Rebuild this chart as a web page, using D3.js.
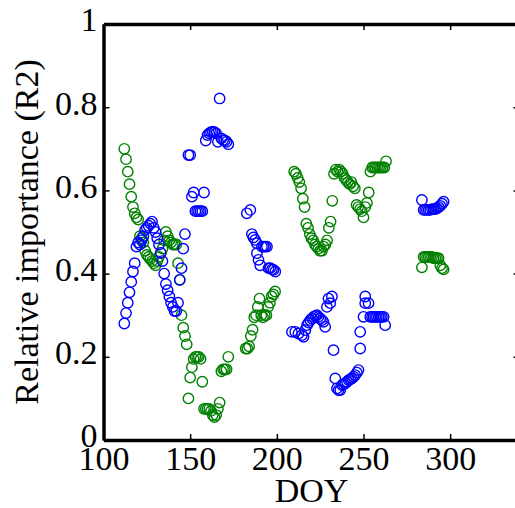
<!DOCTYPE html>
<html>
<head>
<meta charset="utf-8">
<script src="https://cdn.jsdelivr.net/npm/d3@7"></script>
<style>
  html, body { margin: 0; padding: 0; background: #fff; }
  svg { display: block; }
  text { font-family: "Liberation Serif", "Times New Roman", serif; }
</style>
</head>
<body>
<svg id="chart" width="515" height="508"></svg>
<script>
// ---- data ----
const greenDOY = [
  112,113,114,115,116,117,118,119,120,121,122,123,124,125,126,127,128,129,130,131,132,133,134,135,136,137,138,139,140,141,142,143,144,145,146,147,148,
  149,150,151,152,153,154,155,156,157,158,159,160,161,162,163,164,165,166,167,168,169,170,171,172,
  182,183,184,185,186,187,188,189,190,191,192,193,194,195,196,197,198,199,
  210,211,212,213,214,215,216,217,218,219,220,221,222,223,224,225,226,227,228,229,230,231,232,
  233,234,235,236,237,238,239,240,241,242,243,244,245,246,247,248,249,250,251,252,253,254,255,256,257,258,259,260,261,262,263,
  283.7,284.7,285.6,286.6,287.6,288.5,289.5,290.4,291.4,292.4,293.3,294.3,295.3,296.2
];
const greenR2 = [
  0.70,0.675,0.645,0.615,0.585,0.56,0.545,0.535,0.53,0.49,0.485,0.475,0.455,0.445,0.44,0.435,0.43,0.425,0.42,0.43,0.44,0.45,0.46,0.48,0.50,0.49,0.48,0.475,0.47,0.47,0.47,0.425,0.385,0.30,0.27,0.25,0.23,
  0.10,0.15,0.175,0.195,0.20,0.20,0.20,0.195,0.14,0.075,0.075,0.075,0.075,0.07,0.06,0.055,0.06,0.075,0.09,0.165,0.17,0.17,0.17,0.20,
  0.22,0.22,0.225,0.25,0.265,0.295,0.30,0.32,0.34,0.30,0.295,0.30,0.30,0.32,0.33,0.345,0.35,0.357,
  0.645,0.64,0.63,0.62,0.605,0.58,0.56,0.52,0.51,0.495,0.485,0.48,0.47,0.465,0.46,0.455,0.455,0.465,0.47,0.48,0.51,0.525,0.575,
  0.64,0.65,0.645,0.65,0.645,0.64,0.63,0.625,0.62,0.615,0.62,0.61,0.605,0.565,0.56,0.555,0.55,0.535,0.56,0.57,0.595,0.645,0.655,0.655,0.655,0.655,0.655,0.655,0.655,0.655,0.67,
  0.415,0.44,0.44,0.44,0.44,0.44,0.44,0.437,0.437,0.437,0.437,0.42,0.413,0.41
];
const blueDOY = [
  112,113,114,115,116,117,118,119,120,121,122,123,124,125,126,127,128,129,130,131,132,133,134,135,136,137,138,139,140,141,142,143,144,145,146,147,
  149,150,151,152,153,154,155,156,157,158,159,160,161,162,163,164,165,166,167,168,169,170,171,172,
  182.7,184.7,185.6,186.5,187.5,188.5,191.4,192.4,193.3,194.3,188.5,189.4,190.4,195.2,196.2,197.2,198.1,199.1,
  208.7,210.6,212.5,214.5,215.4,216.4,217.4,218.3,219.3,220.3,221.2,222.2,223.1,224,225,226,226.9,227.9,228.9,229.8,230.8,231.8,232.7,
  233.7,234.7,235.6,236.6,237.6,238.5,239.5,240.5,241.4,242.4,243.3,244.3,245.2,246.2,247.1,248.1,248.1,250,251,251,252.9,253.9,254.9,255.8,256.8,257.7,258.7,259.6,260.6,261.6,262.5,
  283.7,284.7,285.6,286.6,287.6,288.5,289.5,290.4,291.4,292.4,293.3,294.3,295.3,296.2
];
const blueR2 = [
  0.28,0.305,0.33,0.355,0.38,0.405,0.425,0.465,0.475,0.47,0.48,0.49,0.505,0.51,0.515,0.52,0.525,0.51,0.50,0.485,0.47,0.45,0.43,0.40,0.375,0.36,0.345,0.33,0.32,0.31,0.31,0.33,0.385,0.413,0.46,0.495,
  0.685,0.685,0.585,0.595,0.55,0.55,0.55,0.55,0.55,0.595,0.72,0.733,0.737,0.74,0.741,0.74,0.737,0.717,0.821,0.725,0.721,0.72,0.717,0.711,
  0.545,0.553,0.495,0.487,0.481,0.473,0.465,0.465,0.465,0.465,0.449,0.433,0.42,0.413,0.413,0.41,0.409,0.405,
  0.26,0.26,0.256,0.252,0.248,0.264,0.276,0.282,0.288,0.292,0.296,0.298,0.30,0.296,0.292,0.288,0.284,0.272,0.32,0.34,0.329,0.345,0.216,
  0.148,0.124,0.12,0.12,0.132,0.134,0.136,0.14,0.144,0.146,0.148,0.152,0.156,0.162,0.168,0.22,0.26,0.296,0.329,0.345,0.329,0.296,0.296,0.296,0.296,0.296,0.296,0.296,0.296,0.296,0.276,
  0.577,0.553,0.553,0.553,0.553,0.553,0.555,0.555,0.555,0.557,0.56,0.563,0.568,0.573
];
const xTicks = [100, 150, 200, 250, 300];
const xTickLabels = ["100", "150", "200", "250", "300"];
const yTicks = [0, 0.2, 0.4, 0.6, 0.8, 1];
const yTickLabels = ["0", "0.2", "0.4", "0.6", "0.8", "1"];
const xLabel = "DOY";
const yLabel = "Relative importance (R2)";

// ---- layout ----
const svg = d3.select("#chart");
const L = 103.5, R = 519.5, T = 24, B = 440;
const x = d3.scaleLinear().domain([100, 340]).range([L, R]);
const y = d3.scaleLinear().domain([0, 1]).range([B, T]);
const FS = 34;

function styleAxis(g) {
  g.select(".domain").attr("stroke", "#000").attr("stroke-width", 3.5);
  g.selectAll(".tick line").attr("stroke", "#000").attr("stroke-width", 1.5);
  g.selectAll(".tick text").attr("font-size", FS).attr("fill", "#000")
    .attr("font-family", '"Liberation Serif", "Times New Roman", serif');
}

// bottom
const gx = svg.append("g").attr("transform", `translate(0,${B})`)
  .call(d3.axisBottom(x).tickValues(xTicks).tickFormat((d, i) => xTickLabels[i])
    .tickSizeInner(-6).tickSizeOuter(0).tickPadding(6));
styleAxis(gx);
// top
const gt = svg.append("g").attr("transform", `translate(0,${T})`)
  .call(d3.axisTop(x).tickValues(xTicks).tickFormat("").tickSizeInner(-6).tickSizeOuter(0));
styleAxis(gt);
// left
const gy = svg.append("g").attr("transform", `translate(${L},0)`)
  .call(d3.axisLeft(y).tickValues(yTicks).tickFormat((d, i) => yTickLabels[i])
    .tickSizeInner(-6).tickSizeOuter(0).tickPadding(6));
styleAxis(gy);
gy.selectAll(".tick text").attr("dy", "0.2em");
// right
const gr = svg.append("g").attr("transform", `translate(${R},0)`)
  .call(d3.axisRight(y).tickValues(yTicks).tickFormat("").tickSizeInner(-6).tickSizeOuter(0));
styleAxis(gr);

// ---- points ----
const gPts = svg.append("g");
gPts.selectAll("circle.g").data(greenDOY.map((d, i) => [d, greenR2[i]])).join("circle")
  .attr("class", "g")
  .attr("cx", d => x(d[0])).attr("cy", d => y(d[1])).attr("r", 5.2)
  .attr("fill", "none").attr("stroke", "#008000").attr("stroke-width", 1.4);
gPts.selectAll("circle.b").data(blueDOY.map((d, i) => [d, blueR2[i]])).join("circle")
  .attr("class", "b")
  .attr("cx", d => x(d[0])).attr("cy", d => y(d[1])).attr("r", 5.2)
  .attr("fill", "none").attr("stroke", "#0000ff").attr("stroke-width", 1.4);

// ---- labels ----
svg.append("text").attr("x", (L + R) / 2).attr("y", 502)
  .attr("text-anchor", "middle").attr("font-size", FS).text(xLabel);
svg.append("text").attr("transform", `translate(38,${(T + B) / 2}) rotate(-90)`)
  .attr("text-anchor", "middle").attr("font-size", FS).text(yLabel);
</script>
</body>
</html>
